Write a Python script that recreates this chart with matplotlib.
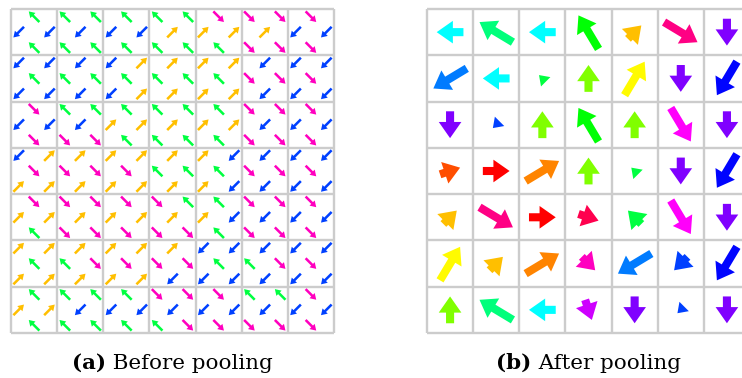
import numpy as np
import matplotlib
matplotlib.use("Agg")
import matplotlib.pyplot as plt
from matplotlib.colors import hsv_to_rgb

# Fine 21x21 field of diagonal unit arrows on the checkerboard sites.
# O = up-right, G = up-left, B = down-left, M = down-right, '.' = empty site
field_rows = [
    ".G.G.G.G.G.G.M.M.M.M.",
    "B.B.B.B.B.O.O.O.O.B.B",
    ".G.G.G.G.G.G.G.M.M.M.",
    "B.B.B.B.O.O.O.O.B.B.B",
    ".G.G.G.G.G.G.G.M.M.M.",
    "B.B.B.B.O.O.O.O.B.B.B",
    ".M.G.G.G.G.G.G.M.M.M.",
    "B.B.B.O.O.O.O.O.B.B.B",
    ".M.M.M.G.G.G.G.M.M.M.",
    "B.O.O.O.O.O.O.B.B.B.B",
    ".M.M.M.M.G.G.G.M.M.M.",
    "O.O.O.O.O.O.O.B.B.B.B",
    ".M.M.M.M.M.G.G.M.M.M.",
    "O.O.O.O.O.O.O.B.B.B.B",
    ".G.M.M.M.M.M.G.M.M.M.",
    "O.O.O.O.O.O.B.B.B.B.B",
    ".G.G.M.M.M.M.G.G.M.M.",
    "O.O.O.O.O.B.B.B.B.B.B",
    ".G.G.G.G.M.M.M.G.G.M.",
    "O.O.B.B.B.B.B.B.B.B.B",
    ".G.G.G.G.G.M.M.M.M.M.",
]
direction_codes = ["O", "G", "B", "M"]
direction_dx = [1, -1, -1, 1]
direction_dy = [1, 1, -1, -1]

n_cells = 7      # pooling grid is 7 x 7
pool = 3         # each pooled cell covers 3 x 3 fine sites

caption_labels = ["(a)", "(b)"]
caption_texts = ["Before pooling", "After pooling"]

grid_color = "#cccccc"

# ---- fine vector field ------------------------------------------------------
n_fine = n_cells * pool
U_fine = np.zeros((n_fine, n_fine))
V_fine = np.zeros((n_fine, n_fine))
mask = np.zeros((n_fine, n_fine), dtype=bool)
for r, row in enumerate(field_rows):
    for c, ch in enumerate(row):
        if ch in direction_codes:
            k = direction_codes.index(ch)
            U_fine[r, c] = direction_dx[k]
            V_fine[r, c] = direction_dy[k]
            mask[r, c] = True

# ---- sum pooling over 3x3 blocks -------------------------------------------
U_pool = U_fine.reshape(n_cells, pool, n_cells, pool).sum(axis=(1, 3))
V_pool = V_fine.reshape(n_cells, pool, n_cells, pool).sum(axis=(1, 3))


def hue_colors(u, v):
    ang = (np.arctan2(v, u) / (2 * np.pi)) % 1.0
    hsv = np.stack([ang, np.ones_like(ang), np.ones_like(ang)], axis=-1)
    return hsv_to_rgb(hsv)


W, H = 742, 378
fig = plt.figure(figsize=(W / 100, H / 100), dpi=100)


def px_axes(x0, y0, x1, y1):
    return fig.add_axes([x0 / W, 1 - y1 / H, (x1 - x0) / W, (y1 - y0) / H])


ax_l = px_axes(11, 9, 334, 333)
ax_r = px_axes(427, 9, 750, 333)

for ax in (ax_l, ax_r):
    ax.set_xlim(0, n_cells)
    ax.set_ylim(0, n_cells)
    ax.set_axis_off()
    ax.vlines(np.arange(n_cells + 1), 0, n_cells, color=grid_color,
              linewidth=1.7, clip_on=False, zorder=1)
    ax.hlines(np.arange(n_cells + 1), 0, n_cells, color=grid_color,
              linewidth=1.7, clip_on=False, zorder=1)

# left: every fine arrow, placed at its sub-site centre
rr, cc = np.nonzero(mask)
xs = (cc + 0.5) / pool
ys = n_cells - (rr + 0.5) / pool
u = U_fine[rr, cc]
v = V_fine[rr, cc]
ax_l.quiver(xs, ys, u, v, color=hue_colors(u, v), units="xy", width=0.055,
            scale_units="xy", scale=4.35, angles="xy", pivot="middle",
            headwidth=2.9, headlength=2.3, headaxislength=2.3,
            linewidth=0, zorder=3)

# right: pooled vector per cell
ii, jj = np.meshgrid(np.arange(n_cells), np.arange(n_cells), indexing="ij")
ii = ii.ravel()
jj = jj.ravel()
up = U_pool[ii, jj]
vp = V_pool[ii, jj]
ax_r.quiver(jj + 0.5, n_cells - (ii + 0.5), up, vp, color=hue_colors(up, vp),
            units="xy", width=0.175, scale_units="xy", scale=6.9, angles="xy",
            pivot="middle", headwidth=2.8, headlength=2.0, headaxislength=2.0,
            linewidth=0, zorder=3)

# captions: bold label followed by regular text, centred under each panel
font = "DejaVu Serif"
fsize = 15.4
renderer = fig.canvas.get_renderer()
centres = [(11 + 334) / 2, (427 + 750) / 2]
base_y = 1 - 369 / H
for cx, lab, txt in zip(centres, caption_labels, caption_texts):
    t1 = fig.text(0, base_y, lab, fontsize=fsize, family=font,
                  fontweight="bold", va="baseline", ha="left")
    t2 = fig.text(0, base_y, " " + txt, fontsize=fsize, family=font,
                  va="baseline", ha="left")
    w1 = t1.get_window_extent(renderer).width
    w2 = t2.get_window_extent(renderer).width
    x0 = cx - (w1 + w2) / 2
    t1.set_x(x0 / W)
    t2.set_x((x0 + w1) / W)

fig.savefig("out.png", dpi=100)
